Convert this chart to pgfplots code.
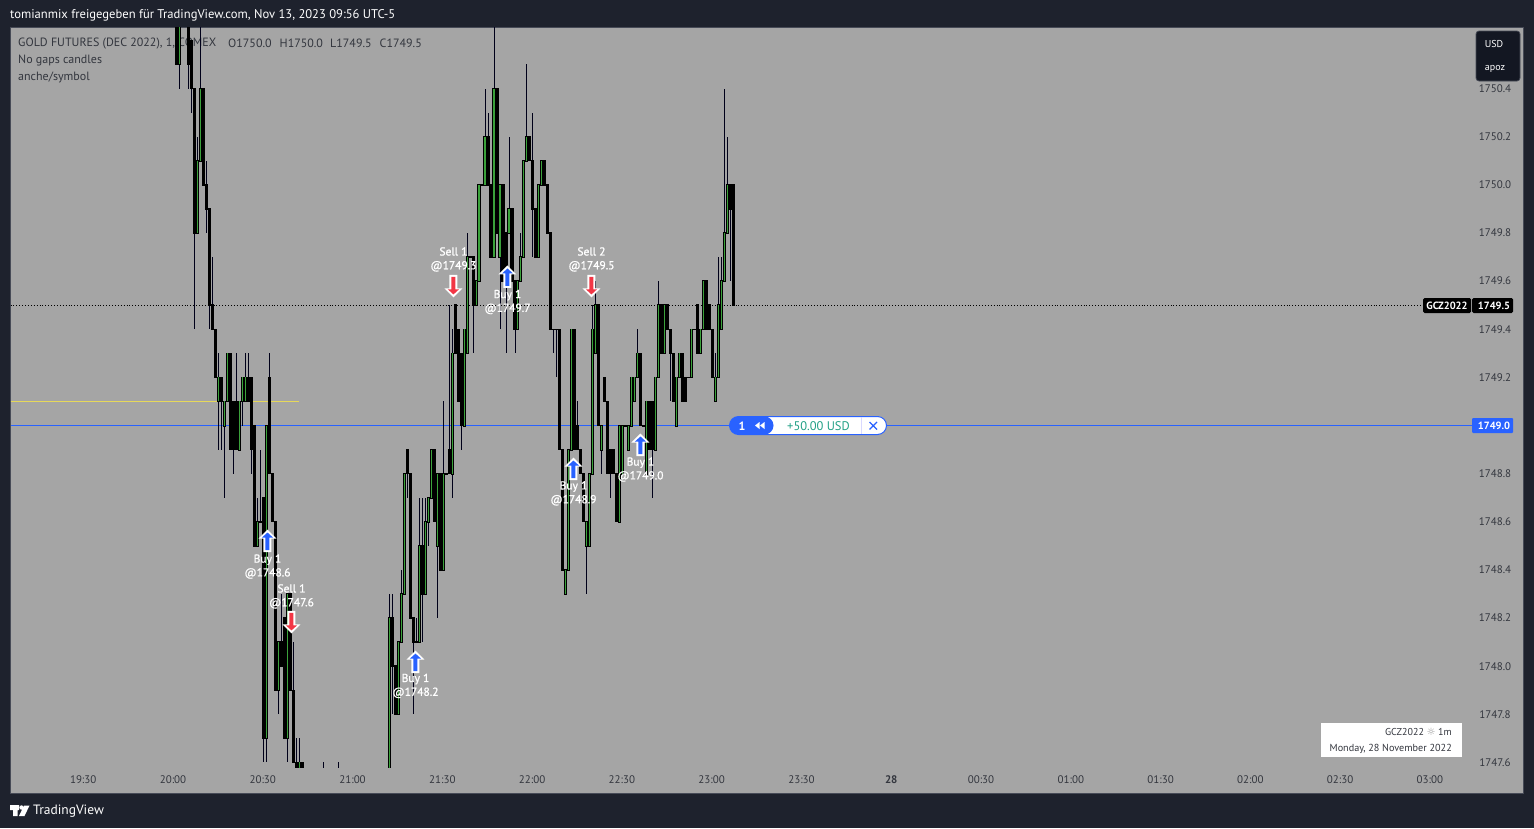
\documentclass[border=0pt]{standalone}
\usepackage{pgfplots}
\usepackage{pgfplotstable}
\usepackage{fontspec}
\pgfplotsset{compat=1.18}
\setmainfont{PT Sans}
\newfontfamily\halo[FakeBold=1.2]{PT Sans}
\newfontfamily\symf{DejaVu Sans}
\definecolor{darkbg}{HTML}{1E222D}
\definecolor{pane}{HTML}{A5A5A5}
\definecolor{frameb}{HTML}{474B57}
\definecolor{badge}{HTML}{131722}
\definecolor{tvblue}{HTML}{2962FF}
\definecolor{tvred}{HTML}{F23645}
\definecolor{cgreen}{HTML}{3BA23B}
\definecolor{lbl}{HTML}{33363E}
\definecolor{teal}{HTML}{22A086}
\definecolor{ylw}{HTML}{E6D85A}

\pgfplotstableread{
m o h l c
31 1750.8 1750.8 1750.5 1750.5
32 1750.5 1750.8 1750.4 1750.8
35 1750.8 1750.8 1750.4 1750.5
36 1750.6 1750.6 1750.3 1750.4
37 1750.4 1750.4 1749.4 1749.8
38 1749.8 1750.2 1749.8 1750.1
39 1750.1 1750.75 1750.1 1750.4
40 1750.4 1750.4 1750.0 1750.0
41 1750.0 1750.1 1749.8 1749.9
42 1749.9 1749.9 1749.4 1749.5
43 1749.5 1749.7 1749.4 1749.4
44 1749.4 1749.4 1749.2 1749.2
45 1749.1 1749.3 1748.9 1749.2
46 1749.2 1749.2 1748.9 1749.1
47 1749.0 1749.1 1748.7 1749.1
48 1749.1 1749.3 1749.1 1749.3
49 1749.3 1749.3 1748.9 1748.9
50 1749.1 1749.1 1748.8 1748.9
51 1749.1 1749.3 1748.9 1748.9
52 1748.9 1749.1 1748.9 1749.1
53 1749.1 1749.2 1749.0 1749.2
54 1749.1 1749.3 1749.1 1749.2
55 1749.2 1749.3 1749.1 1749.1
56 1749.2 1749.2 1748.8 1748.9
57 1749.0 1749.0 1748.5 1748.5
58 1748.5 1748.7 1748.5 1748.6
59 1748.6 1748.9 1748.6 1748.6
60 1748.7 1748.7 1747.6 1747.7
61 1747.7 1749.0 1747.6 1749.0
62 1749.2 1749.3 1748.8 1748.8
63 1748.8 1748.8 1748.6 1748.6
64 1748.6 1748.6 1747.9 1747.9
65 1747.9 1748.1 1747.8 1748.1
66 1748.1 1748.3 1748.0 1748.0
67 1748.2 1748.2 1747.7 1747.7
68 1747.7 1748.3 1747.6 1748.3
69 1748.3 1748.3 1747.9 1747.9
70 1747.9 1748.1 1747.6 1747.6
71 1747.6 1747.7 1747.5 1747.5
72 1747.5 1747.7 1747.5 1747.6
73 1747.6 1747.6 1747.5 1747.5
80 1747.5 1747.6 1747.4 1747.45
85 1747.5 1747.6 1747.4 1747.45
102 1747.5 1748.3 1747.5 1748.2
103 1748.2 1748.3 1747.8 1748.0
104 1748.0 1748.0 1747.8 1747.8
105 1747.8 1748.1 1747.8 1748.1
106 1748.1 1748.4 1748.1 1748.3
107 1748.3 1748.8 1748.3 1748.8
108 1748.9 1748.9 1748.7 1748.8
109 1748.8 1748.8 1748.2 1748.2
110 1748.2 1748.2 1747.8 1748.1
111 1748.1 1748.2 1748.1 1748.1
112 1748.1 1748.7 1748.1 1748.5
113 1748.5 1748.7 1748.1 1748.3
114 1748.3 1748.7 1748.3 1748.6
115 1748.6 1748.7 1748.5 1748.7
116 1748.7 1748.9 1748.7 1748.9
117 1748.9 1748.9 1748.6 1748.6
118 1748.5 1748.8 1748.2 1748.8
119 1748.8 1748.8 1748.4 1748.4
120 1748.4 1749.1 1748.4 1748.8
121 1748.8 1748.8 1748.8 1748.8
122 1748.9 1749.5 1748.8 1748.8
123 1748.8 1749.4 1748.7 1749.3
124 1749.5 1749.5 1749.3 1749.3
125 1749.4 1749.4 1749.1 1749.1
126 1749.3 1749.3 1748.9 1749.0
127 1749.0 1749.4 1749.0 1749.4
128 1749.3 1749.8 1749.3 1749.7
129 1749.7 1749.7 1749.7 1749.7
130 1749.7 1749.7 1749.3 1749.5
131 1749.5 1749.6 1749.5 1749.6
132 1749.6 1750.0 1749.6 1750.0
133 1750.0 1750.0 1750.0 1750.0
134 1750.0 1750.4 1750.0 1750.2
135 1750.2 1750.3 1750.0 1750.0
136 1750.0 1750.0 1749.7 1749.7
137 1749.7 1750.7 1749.7 1750.4
138 1750.4 1750.4 1749.8 1749.8
139 1749.7 1750.0 1749.4 1750.0
140 1750.0 1750.0 1749.6 1749.6
141 1749.8 1749.8 1749.3 1749.6
142 1749.8 1750.2 1749.8 1749.9
143 1749.9 1749.9 1749.6 1749.6
144 1749.6 1749.6 1749.3 1749.4
145 1749.4 1749.6 1749.4 1749.6
146 1749.6 1749.8 1749.6 1749.7
147 1749.7 1750.1 1749.7 1750.1
148 1750.1 1750.5 1750.1 1750.2
149 1750.2 1750.2 1750.1 1750.1
150 1750.1 1750.3 1749.7 1749.9
151 1749.9 1749.9 1749.7 1749.7
152 1749.7 1750.0 1749.7 1750.0
153 1750.0 1750.1 1750.0 1750.1
154 1750.1 1750.1 1750.0 1750.0
155 1750.0 1750.0 1749.8 1749.8
156 1749.8 1749.8 1749.4 1749.4
157 1749.4 1749.4 1749.3 1749.4
158 1749.4 1749.4 1749.2 1749.4
159 1749.4 1749.4 1748.9 1748.9
160 1748.9 1748.9 1748.4 1748.4
161 1748.3 1748.4 1748.3 1748.4
162 1748.4 1748.9 1748.4 1748.9
163 1748.9 1749.4 1748.9 1749.4
164 1749.4 1749.4 1748.9 1748.9
165 1749.0 1749.1 1748.9 1748.9
166 1748.9 1748.9 1748.8 1748.8
167 1748.8 1748.8 1748.6 1748.6
168 1748.5 1748.6 1748.3 1748.6
169 1748.5 1748.8 1748.5 1748.8
170 1748.8 1749.5 1748.8 1749.4
171 1749.3 1749.6 1749.3 1749.5
172 1749.5 1749.5 1749.0 1749.0
173 1748.9 1749.0 1748.8 1749.0
174 1749.2 1749.2 1749.1 1749.1
175 1749.1 1749.1 1748.8 1748.8
176 1748.9 1748.9 1748.7 1748.8
177 1748.9 1748.9 1748.8 1748.8
178 1748.8 1748.8 1748.6 1748.6
179 1748.6 1749.0 1748.6 1749.0
180 1748.8 1749.0 1748.8 1749.0
181 1749.0 1749.0 1749.0 1749.0
182 1748.9 1749.0 1748.9 1749.0
183 1749.0 1749.2 1749.0 1749.2
184 1749.1 1749.2 1749.1 1749.2
185 1749.2 1749.4 1749.2 1749.3
186 1749.3 1749.3 1749.0 1749.0
187 1749.0 1749.0 1749.0 1749.0
188 1748.8 1749.1 1748.8 1749.1
189 1749.1 1749.1 1748.9 1748.9
190 1749.1 1749.1 1748.7 1748.9
191 1748.9 1749.2 1748.9 1749.2
192 1749.2 1749.6 1749.2 1749.5
193 1749.5 1749.5 1749.3 1749.3
194 1749.3 1749.5 1749.3 1749.5
195 1749.5 1749.5 1749.4 1749.4
196 1749.4 1749.4 1749.1 1749.3
197 1749.3 1749.3 1749.1 1749.1
198 1749.0 1749.2 1749.0 1749.2
199 1749.2 1749.3 1749.2 1749.3
200 1749.3 1749.3 1749.1 1749.1
201 1749.2 1749.2 1749.1 1749.1
202 1749.2 1749.2 1749.2 1749.2
203 1749.2 1749.4 1749.2 1749.4
204 1749.4 1749.4 1749.4 1749.4
205 1749.5 1749.5 1749.3 1749.3
206 1749.3 1749.4 1749.3 1749.4
207 1749.4 1749.6 1749.4 1749.6
208 1749.6 1749.6 1749.4 1749.4
209 1749.5 1749.5 1749.4 1749.4
210 1749.4 1749.4 1749.2 1749.2
211 1749.1 1749.3 1749.1 1749.2
212 1749.2 1749.7 1749.2 1749.5
213 1749.4 1749.7 1749.4 1749.6
214 1749.6 1750.4 1749.6 1749.8
215 1749.8 1750.2 1749.8 1750.0
216 1750.0 1750.0 1749.6 1749.9
217 1750.0 1750.0 1749.5 1749.5
}\candles

\pgfplotstableread{
m p
61.31 1748.52
110.76 1748.017
141.5 1749.617
163.55 1748.819
185.94 1748.919
}\buys
\pgfplotstableread{
m p
69.33 1748.184
123.45 1749.58
169.56 1749.58
}\sells

\pgfdeclareplotmark{buyarrow}{%
  \pgfsetfillcolor{white}%
  \pgfpathmoveto{\pgfqpoint{0pt}{11.5pt}}\pgfpathlineto{\pgfqpoint{9pt}{2.5pt}}\pgfpathlineto{\pgfqpoint{4pt}{2.5pt}}\pgfpathlineto{\pgfqpoint{4pt}{-11pt}}\pgfpathlineto{\pgfqpoint{-4pt}{-11pt}}\pgfpathlineto{\pgfqpoint{-4pt}{2.5pt}}\pgfpathlineto{\pgfqpoint{-9pt}{2.5pt}}\pgfpathclose\pgfusepathqfill
  \pgfsetfillcolor{tvblue}%
  \pgfpathmoveto{\pgfqpoint{0pt}{8.5pt}}\pgfpathlineto{\pgfqpoint{5.5pt}{3.5pt}}\pgfpathlineto{\pgfqpoint{2pt}{3.5pt}}\pgfpathlineto{\pgfqpoint{2pt}{-9pt}}\pgfpathlineto{\pgfqpoint{-2pt}{-9pt}}\pgfpathlineto{\pgfqpoint{-2pt}{3.5pt}}\pgfpathlineto{\pgfqpoint{-5.5pt}{3.5pt}}\pgfpathclose\pgfusepathqfill
}
\pgfdeclareplotmark{sellarrow}{%
  \pgfsetfillcolor{white}%
  \pgfpathmoveto{\pgfqpoint{0pt}{-11.5pt}}\pgfpathlineto{\pgfqpoint{9pt}{-2.5pt}}\pgfpathlineto{\pgfqpoint{4pt}{-2.5pt}}\pgfpathlineto{\pgfqpoint{4pt}{11pt}}\pgfpathlineto{\pgfqpoint{-4pt}{11pt}}\pgfpathlineto{\pgfqpoint{-4pt}{-2.5pt}}\pgfpathlineto{\pgfqpoint{-9pt}{-2.5pt}}\pgfpathclose\pgfusepathqfill
  \pgfsetfillcolor{tvred}%
  \pgfpathmoveto{\pgfqpoint{0pt}{-8.5pt}}\pgfpathlineto{\pgfqpoint{5.5pt}{-3.5pt}}\pgfpathlineto{\pgfqpoint{2pt}{-3.5pt}}\pgfpathlineto{\pgfqpoint{2pt}{9pt}}\pgfpathlineto{\pgfqpoint{-2pt}{9pt}}\pgfpathlineto{\pgfqpoint{-2pt}{-3.5pt}}\pgfpathlineto{\pgfqpoint{-5.5pt}{-3.5pt}}\pgfpathclose\pgfusepathqfill
}

\newcommand{\fs}[1]{\fontsize{#1}{#1}\selectfont}
\newcommand{\trade}[3]{\node[text=white,align=center,inner sep=0pt,font={\fontsize{11.5}{13.8}\selectfont\halo}] at (axis cs:#1,#2) {#3};}

\begin{document}
\begin{tikzpicture}
\path[use as bounding box] (0pt,0pt) rectangle (1534pt,-828pt);
\begin{scope}[x=1pt,y=-1pt]
\fill[darkbg] (0,0) rectangle (1534,828);
\fill[pane] (10.5,27.5) rectangle (1523.5,793.5);
\draw[frameb,line width=1pt] (10.5,27.5) rectangle (1523.5,793.5);
\node[anchor=west,inner sep=0pt,text=white,font={\fs{12.6}}] at (10,15.5) {tomianmix freigegeben für TradingView.com, Nov 13, 2023 09:56 UTC-5};
\begin{scope}[every node/.style={anchor=west,inner sep=0pt,text=lbl,font={\fs{12}}}]
\node at (18,43.5) {GOLD FUTURES (DEC 2022), 1, COMEX};
\node at (228,43.5) {O1750.0};
\node at (279.5,43.5) {H1750.0};
\node at (330,43.5) {L1749.5};
\node at (379.5,43.5) {C1749.5};
\node at (18,60.5) {No gaps candles};
\node at (18,77) {anche/symbol};
\end{scope}
\end{scope}

\begin{axis}[
  at={(10.5pt,-767pt)}, anchor=south west,
  scale only axis, width=1513pt, height=740pt,
  xmin=-24.56, xmax=481, ymin=1747.5812, ymax=1750.6556,
  axis line style={draw=none},
  major tick length=0pt, tick style={draw=none},
  xtick={0,30,60,90,120,150,180,210,240,270,300,330,360,390,420,450},
  xticklabels={19:30,20:00,20:30,21:00,21:30,22:00,22:30,23:00,23:30,\textbf{28},00:30,01:00,01:30,02:00,02:30,03:00},
  xticklabel style={anchor=center,yshift=-12.8pt,xshift=-0.8pt,text=lbl,font={\fs{11}}},
  ytick={1747.6,1747.8,1748.0,1748.2,1748.4,1748.6,1748.8,1749.0,1749.2,1749.4,1749.6,1749.8,1750.0,1750.2,1750.4},
  yticklabels={1747.6,1747.8,1748.0,1748.2,1748.4,1748.6,1748.8,1749.0,1749.2,1749.4,1749.6,1749.8,1750.0,1750.2,1750.4},
  yticklabel pos=right,
  yticklabel style={anchor=center,xshift=-28.5pt,text=lbl,font={\fs{11}}},
]
% price lines
\addplot[ylw,line width=0.9pt,forget plot] coordinates {(-24.56,1749.102) (71.7,1749.102)};
\addplot[tvblue,line width=0.9pt,forget plot] coordinates {(-24.56,1749.0) (463.9,1749.0)};
\addplot[black,line width=0.9pt,dotted,forget plot] coordinates {(-24.56,1749.5) (447.5,1749.5)};
% wicks
\addplot[draw=none,mark=none,forget plot,
  error bars/.cd,y dir=both,y explicit,error mark=none,
  error bar style={line width=0.9pt,color=black!90!blue}]
  table[x=m,y=o,y error plus expr=\thisrow{h}-\thisrow{o},y error minus expr=\thisrow{o}-\thisrow{l}] {\candles};
% body outlines
\addplot[draw=none,mark=none,forget plot,
  error bars/.cd,y dir=both,y explicit,error mark=none,
  error bar style={line width=3.1pt,color=black}]
  table[x=m,y=o,y error plus expr={max(\thisrow{o},\thisrow{c})-\thisrow{o}+0.003},y error minus expr={\thisrow{o}-min(\thisrow{o},\thisrow{c})+0.003}] {\candles};
% up bodies
\addplot[draw=none,mark=none,forget plot,
  error bars/.cd,y dir=plus,y explicit,error mark=none,
  error bar style={line width=1.1pt,color=cgreen}]
  table[x=m,y=o,y error plus expr={max(\thisrow{c}-\thisrow{o},0)}] {\candles};
% trades
\addplot[only marks,mark=buyarrow,forget plot] table[x=m,y=p] {\buys};
\addplot[only marks,mark=sellarrow,forget plot] table[x=m,y=p] {\sells};
\trade{61.31}{1748.414}{Buy 1\\@1748.6}
\trade{69.33}{1748.290}{Sell 1\\@1747.6}
\trade{110.76}{1747.918}{Buy 1\\@1748.2}
\trade{123.45}{1749.690}{Sell 1\\@1749.3}
\trade{141.5}{1749.513}{Buy 1\\@1749.7}
\trade{163.55}{1748.718}{Buy 1\\@1748.9}
\trade{169.56}{1749.690}{Sell 2\\@1749.5}
\trade{185.94}{1748.817}{Buy 1\\@1749.0}
\end{axis}

\begin{scope}[x=1pt,y=-1pt]
% USD badge
\fill[badge,draw=frameb,line width=0.7pt,rounded corners=3pt] (1476,31) rectangle (1520,81);
\node[text=white,inner sep=0pt,font={\fs{10}}] at (1494,44) {USD};
\node[text=white,inner sep=0pt,font={\fs{10}}] at (1495,69) {apoz};
% price labels
\fill[black,rounded corners=1.5pt] (1423,298) rectangle (1471,313);
\fill[black,rounded corners=1.5pt] (1472,298) rectangle (1513,313);
\node[text=white,inner sep=0pt,font={\fs{10.5}\bfseries}] at (1447,306) {GCZ2022};
\node[text=white,inner sep=0pt,font={\fs{10.5}\bfseries}] at (1494,306) {1749.5};
\fill[tvblue,rounded corners=1pt] (1472,418) rectangle (1513,433);
\node[text=white,inner sep=0pt,font={\fs{10.5}\bfseries}] at (1494,426) {1749.0};
% position pill
\fill[white,rounded corners=9pt] (729.5,416.5) rectangle (886.5,434.5);
\draw[tvblue,line width=1pt,rounded corners=9pt] (729.5,416.5) rectangle (886.5,434.5);
\fill[tvblue,rounded corners=9pt] (729.5,416.5) rectangle (773.5,434.5);
\node[text=white,inner sep=0pt,font={\fs{12}\bfseries}] at (742,426) {1};
\fill[white] (755,425.5) -- (759.5,422) -- (759.5,429) -- cycle;
\fill[white] (760,425.5) -- (764.5,422) -- (764.5,429) -- cycle;
\node[text=teal,inner sep=0pt,font={\fs{12.5}}] at (818.5,426) {+50.00 USD};
\draw[blue!15!white,line width=0.8pt] (861.5,417) -- (861.5,434);
\draw[tvblue,line width=1.2pt] (869.5,422) -- (877,429.5) (877,422) -- (869.5,429.5);
% symbol box
\fill[white] (1321,723) rectangle (1462,757);
\node[anchor=east,inner sep=0pt,text=lbl,font={\fs{10}}] at (1452,732) {GCZ2022 {\symf\textcolor{black!40}{☼}} 1m};
\node[anchor=east,inner sep=0pt,text=lbl,font={\fs{10.2}}] at (1452,748.5) {Monday, 28 November 2022};
% TV logo
\fill[white] (10,805) rectangle (19,810) (13,810) rectangle (17.5,816);
\fill[white] (21.5,807.5) circle (2.2);
\fill[white] (24,805.5) -- (29.5,805.5) -- (24.5,816) -- (19,816) -- cycle;
\node[anchor=west,inner sep=0pt,text=white,font={\fs{13.5}}] at (33,811) {TradingView};
\end{scope}
\end{tikzpicture}
\end{document}
